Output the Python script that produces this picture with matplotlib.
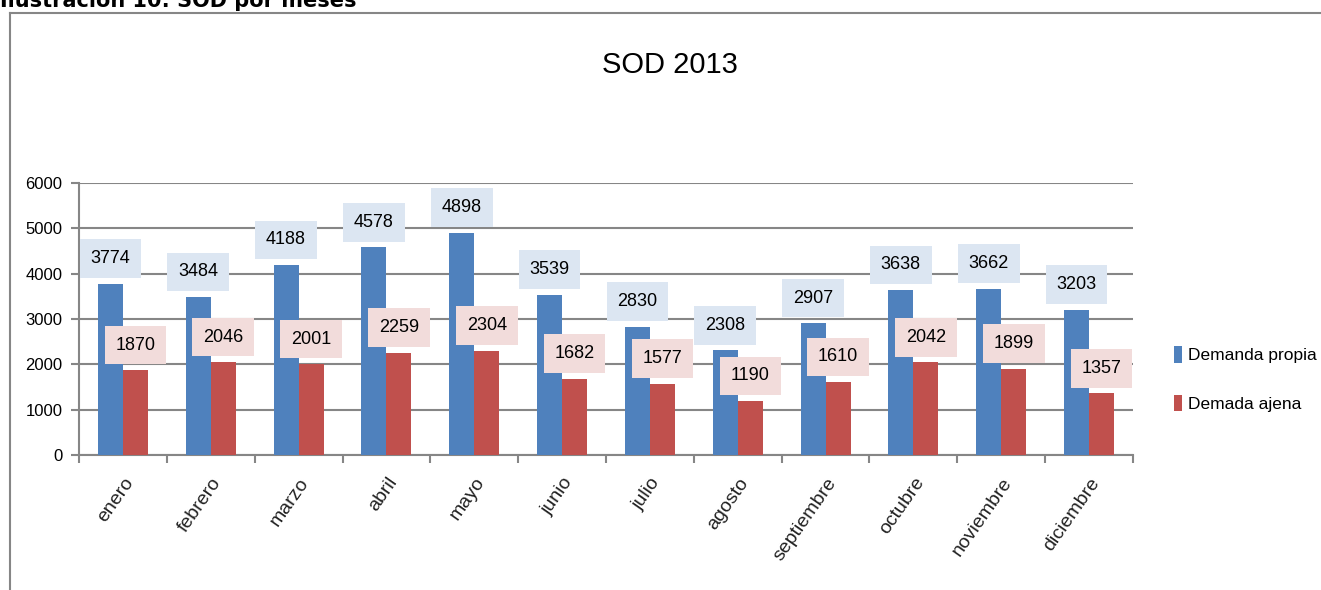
import matplotlib
matplotlib.use("Agg")
import matplotlib.pyplot as plt
import numpy as np
from matplotlib.lines import Line2D

# data
MESES = ["enero", "febrero", "marzo", "abril", "mayo", "junio", "julio",
         "agosto", "septiembre", "octubre", "noviembre", "diciembre"]
PROPIA = [3774, 3484, 4188, 4578, 4898, 3539, 2830, 2308, 2907, 3638, 3662, 3203]
AJENA = [1870, 2046, 2001, 2259, 2304, 1682, 1577, 1190, 1610, 2042, 1899, 1357]
LABEL_PROPIA = "Demanda propia"
LABEL_AJENA = "Demada ajena"
Y_TICKS = [0, 1000, 2000, 3000, 4000, 5000, 6000]

BLUE = "#4f81bd"
RED = "#c0504d"
GRID = "#868686"
FONT = "Liberation Sans"

W, H = 1321, 590
fig = plt.figure(figsize=(W / 100, H / 100), dpi=100)
ax = fig.add_axes([79 / W, 1 - 455 / H, (1133 - 79) / W, (455 - 183) / H])

x = np.arange(len(MESES))
bw = 0.285
b1 = ax.bar(x - bw / 2, PROPIA, bw, color=BLUE, label=LABEL_PROPIA, zorder=3)
b2 = ax.bar(x + bw / 2, AJENA, bw, color=RED, label=LABEL_AJENA, zorder=3)

for bars, vals, bg in [(b1, PROPIA, "#dce6f2"), (b2, AJENA, "#f2dcdb")]:
    for rect, v in zip(bars, vals):
        ax.annotate(str(v), (rect.get_x() + rect.get_width() / 2, v),
                    xytext=(0, 12), textcoords="offset points",
                    ha="center", va="bottom", fontsize=13, family=FONT,
                    zorder=5,
                    bbox=dict(boxstyle="square,pad=0.6", fc=bg, ec="none"))

ax.set_xlim(-0.5, len(MESES) - 0.5)
ax.set_ylim(0, 6000)
ax.set_yticks(Y_TICKS)
ax.set_yticklabels([str(t) for t in Y_TICKS], family=FONT, fontsize=12)
ax.yaxis.grid(True, color=GRID, linewidth=1.5, zorder=0)
ax.set_axisbelow(True)

# category ticks at boundaries, labels at centres
ax.set_xticks(np.arange(len(MESES) + 1) - 0.5)
ax.set_xticklabels([])
ax.set_xticks(x, minor=True)
ax.set_xticklabels(MESES, minor=True, rotation=55, ha="right",
                   rotation_mode="anchor", family=FONT, fontsize=14, color="#222222")
ax.tick_params(axis="x", which="minor", length=0, pad=14)
ax.tick_params(axis="x", which="major", length=6, width=1.5, color=GRID)
ax.tick_params(axis="y", length=6, width=1.5, color=GRID, pad=6)

for s in ["top", "right"]:
    ax.spines[s].set_visible(False)
for s in ["left", "bottom"]:
    ax.spines[s].set_color(GRID)
    ax.spines[s].set_linewidth(1.5)

fig.text(670 / W, 1 - 65 / H, "SOD 2013", ha="center", va="center",
         family=FONT, fontsize=21)

fig.legend(handles=[b1, b2], loc="center left",
           bbox_to_anchor=(1158 / W, 1 - 379 / H), frameon=False,
           prop={"family": FONT, "size": 12.5}, handlelength=0.5,
           handleheight=1.1, handletextpad=0.35, labelspacing=1.8)

# outer frame of the embedded chart and the caption above it
fig.add_artist(Line2D([10 / W, 1], [1 - 13 / H, 1 - 13 / H], color=GRID, lw=1.5))
fig.add_artist(Line2D([10 / W, 10 / W], [0, 1 - 13 / H], color=GRID, lw=1.5))
fig.text(0, 1 - 7 / H, "Ilustración 10: SOD por meses", ha="left", va="baseline",
         fontsize=15, fontweight="bold", family="DejaVu Sans")

fig.savefig("out.png", dpi=100)
